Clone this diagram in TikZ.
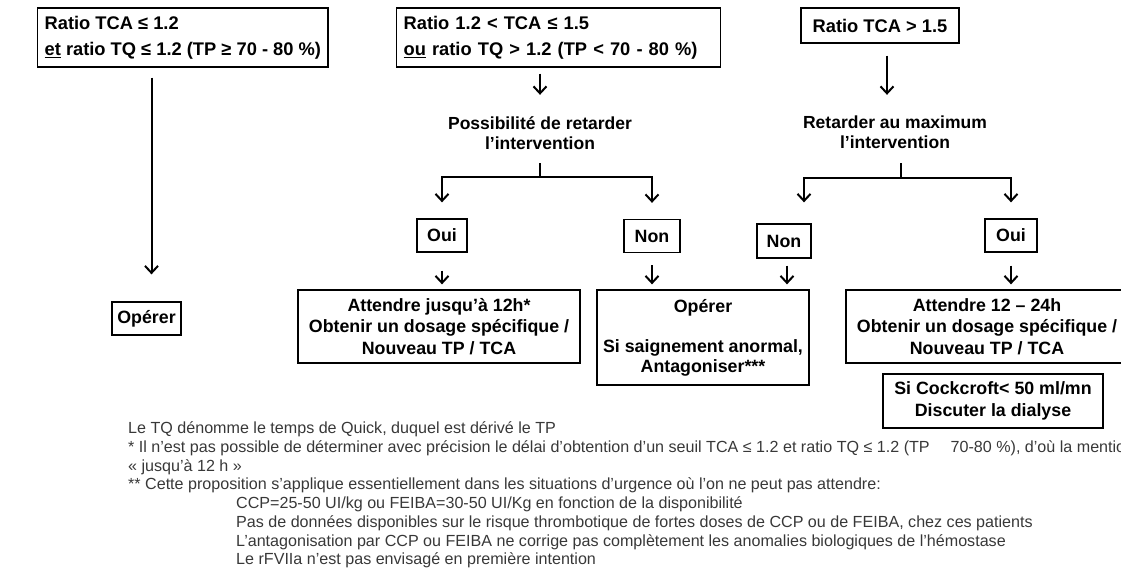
\documentclass[tikz,border=0pt]{standalone}
\usepackage{fontspec}
\setmainfont{Liberation Sans}
\usetikzlibrary{arrows.meta}
\begin{document}
\begin{tikzpicture}[x=1pt,y=-1pt,
  bx/.style={draw, line width=1.3pt, inner sep=0pt, align=center,
    font=\bfseries\fontsize{17.8}{21.5}\selectfont},
  topbx/.style={draw, line width=1.3pt, inner xsep=7pt, inner ysep=0pt,
    minimum height=59pt, align=left, anchor=west,
    font=\bfseries\fontsize{18.3}{26}\selectfont},
  lab/.style={inner sep=0pt, minimum height=40pt, align=center,
    font=\bfseries\fontsize{17.5}{19.5}\selectfont},
  ln/.style={line width=2pt},
  arr/.style={line width=2pt, -{Straight Barb[length=7pt,width=13pt,line width=2pt]}},
  fn/.style={inner sep=0pt, anchor=base west, text=black!78,
    font=\fontsize{16.1}{18.8}\selectfont}]
\useasboundingbox (0,0) rectangle (1121,568);
\clip (0,0) rectangle (1121,568);
% top boxes
\node[topbx] (b1) at (37,37.5)
  {Ratio TCA ≤ 1.2\\\underline{et} ratio TQ ≤ 1.2 (TP ≥ 70 - 80 \%)};
\node[topbx, text width=310pt] (b2) at (396,37.5)
  {Ratio 1.2 < TCA ≤ 1.5\\\underline{ou} ratio TQ > 1.2 (TP < 70 - 80 \%)};
\node[bx, minimum width=158pt, minimum height=35pt,
  font=\bfseries\fontsize{18.3}{22}\selectfont] (b3) at (880,25.5) {Ratio TCA > 1.5};
% labels
\node[lab] (l1) at (540,133) {Possibilité de retarder\\l’intervention};
\node[lab] (l2) at (895,132) {Retarder au maximum\\l’intervention};
% small boxes
\node[bx, minimum width=50pt, minimum height=33pt] (oui1) at (442,235.5) {Oui};
\node[bx, minimum width=56pt, minimum height=33pt] (non1) at (652,236) {Non};
\node[bx, minimum width=54pt, minimum height=34pt] (non2) at (784,241) {Non};
\node[bx, minimum width=52pt, minimum height=33pt] (oui2) at (1011,235.5) {Oui};
% result boxes
\node[bx, minimum width=69pt, minimum height=33pt] (op1) at (146.5,318.5) {Opérer};
\node[bx, minimum width=282pt, minimum height=73pt] (att1) at (439,326.5)
  {Attendre jusqu’à 12h*\\Obtenir un dosage spécifique /\\Nouveau TP / TCA};
\node[bx, minimum width=212pt, minimum height=95pt,
  font=\bfseries\fontsize{17.8}{20}\selectfont] (op2) at (703,337.5)
  {Opérer\\\strut\\Si saignement anormal,\\Antagoniser***};
\node[bx, minimum width=282pt, minimum height=73pt] (att2) at (987,326.5)
  {Attendre 12 – 24h\\Obtenir un dosage spécifique /\\Nouveau TP / TCA};
\node[bx, minimum width=220pt, minimum height=54pt] (ck) at (993,401)
  {Si Cockcroft< 50 ml/mn\\Discuter la dialyse};
% junctions
\coordinate (j1) at (540,177);
\coordinate (j2) at (901,178);
% connectors
\draw[arr, shorten <=10pt, shorten >=27pt] ([xshift=5pt]op1.north |- b1.south) -- ([xshift=5pt]op1.north);
\draw[arr, shorten <=6pt, shorten >=18pt] (l1.north |- b2.south) -- (l1.north);
\draw[ln, shorten <=10pt] (l1.south) -- (j1);
\draw[arr, shorten >=16pt] (j1) -| (oui1.north);
\draw[arr, shorten >=16pt] (j1) -| (non1.north);
\draw[arr, shorten <=12pt, shorten >=17pt] (l2.north -| j2) ++(-14,0) coordinate (a3) (b3.south -| a3) -- (a3);
\draw[ln, shorten <=11pt] (j2 |- l2.south) -- (j2);
\draw[arr, shorten >=21pt] (j2) -| ([xshift=20pt]non2.north);
\draw[arr, shorten >=16pt] (j2) -| (oui2.north);
\draw[arr, shorten <=18pt, shorten >=5pt] (oui1.south) -- (oui1.south |- att1.north);
\draw[arr, shorten <=12pt, shorten >=5pt] (non1.south) -- (non1.south |- op2.north);
\draw[arr, shorten <=7pt, shorten >=5pt] ([xshift=3pt]non2.south) -- ([xshift=3pt]non2.south |- op2.north);
\draw[arr, shorten <=13pt, shorten >=5pt] (oui2.south) -- (oui2.south |- att2.north);
% footnotes
\node[fn] (f1) at (128,433) {Le TQ dénomme le temps de Quick, duquel est dérivé le TP};
\node[fn] (f2) at (128,452) {* Il n’est pas possible de déterminer avec précision le délai d’obtention d’un seuil TCA ≤ 1.2 et ratio TQ ≤ 1.2 (TP\hspace{21pt}70-80 \%), d’où la mention};
\node[fn] (f3) at (128,471) {« jusqu’à 12 h »};
\node[fn] (f4) at (128,489.5) {** Cette proposition s’applique essentiellement dans les situations d’urgence où l’on ne peut pas attendre:};
\node[fn] (f5) at (236,508) {CCP=25-50 UI/kg ou FEIBA=30-50 UI/Kg en fonction de la disponibilité};
\node[fn] (f6) at (236,527) {Pas de données disponibles sur le risque thrombotique de fortes doses de CCP ou de FEIBA, chez ces patients};
\node[fn] (f7) at (236,546) {L'antagonisation par CCP ou FEIBA ne corrige pas complètement les anomalies biologiques de l'hémostase};
\node[fn] (f8) at (236,564.5) {Le rFVIIa n’est pas envisagé en première intention};
\end{tikzpicture}
\end{document}
